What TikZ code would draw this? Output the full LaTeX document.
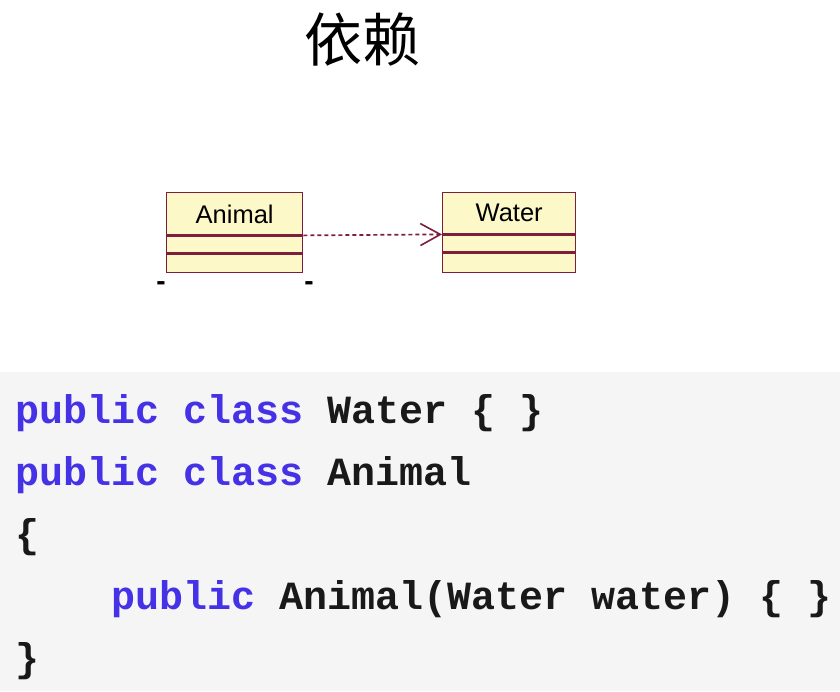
\documentclass[tikz,border=0pt]{standalone}
\usepackage{fontspec}
\setmainfont{Liberation Sans}
\setmonofont{Liberation Mono}
\newfontfamily\cjk{Noto Sans CJK SC}
\usetikzlibrary{arrows.meta}
\definecolor{umlfill}{RGB}{252,248,200}
\definecolor{umlline}{RGB}{125,30,60}
\definecolor{codebg}{RGB}{245,245,245}
\definecolor{kw}{RGB}{70,50,230}
\definecolor{codetxt}{RGB}{25,25,25}
\tikzset{
  cls/.style={draw=umlline, fill=umlfill, line width=1.4pt, minimum width=136pt, inner sep=0pt, anchor=north west, font=\fontsize{25.5}{30}\selectfont},
  codeline/.style={anchor=base west, inner sep=0pt, text=codetxt, font=\ttfamily\bfseries\fontsize{40}{48}\selectfont},
  dep/.style={draw=umlline, line width=1.7pt, dash pattern=on 4pt off 3pt, -{Straight Barb[length=20pt,width=22pt,line width=1.6pt]}},
  vis/.style={inner sep=0pt, font=\bfseries\fontsize{28}{32}\selectfont}
}
\begin{document}
\begin{tikzpicture}[x=1pt,y=-1pt]
\useasboundingbox (0,0) rectangle (840,691);
\fill[white] (0,0) rectangle (840,691);
\fill[codebg] (0,372) rectangle (840,691);
% title
\node[inner sep=0pt, font=\cjk\fontsize{58}{64}\selectfont] (title) at (362,40) {依赖};
% Animal class
\node[cls, minimum height=42pt, text depth=0pt, yshift=0pt] (animalHead) at (166,192) {\raisebox{-2pt}{Animal}};
\node[cls, minimum height=17pt] (animalAttr) at (animalHead.south west) {};
\node[cls, minimum height=18pt] (animalOps) at (animalAttr.south west) {};
% Water class
\node[cls, minimum width=133pt, minimum height=41pt] (waterHead) at (442,192) {\raisebox{-2pt}{Water}};
\node[cls, minimum width=133pt, minimum height=17pt] (waterAttr) at (waterHead.south west) {};
\node[cls, minimum width=133pt, minimum height=19pt] (waterOps) at (waterAttr.south west) {};
% dependency
\draw[dep] (animalHead.south east) -- (waterHead.south west);
% visibility marks
\node[vis] (minusL) at (161,286) {-};
\node[vis] (minusR) at (309,286) {-};
% code
\node[codeline] (code1) at (15,423) {\textcolor{kw}{public class} Water \{ \}};
\node[codeline] (code2) at (15,485) {\textcolor{kw}{public class} Animal};
\node[codeline] (code3) at (15,547) {\{};
\node[codeline] (code4) at (15,609) {\phantom{xxxx}\textcolor{kw}{public} Animal(Water water) \{ \}};
\node[codeline] (code5) at (15,671) {\}};
\end{tikzpicture}
\end{document}
